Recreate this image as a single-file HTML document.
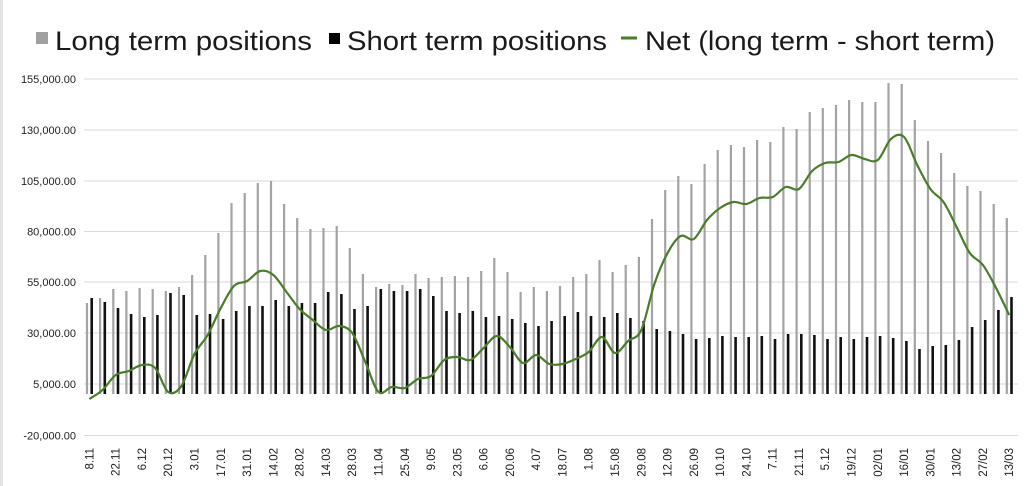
<!DOCTYPE html>
<html><head><meta charset="utf-8"><style>
html,body{margin:0;padding:0;background:#fff;}
svg{display:block;font-family:"Liberation Sans",Arial,sans-serif;}
</style></head><body>
<svg id="c" width="1030" height="486" viewBox="0 0 1030 486" xmlns="http://www.w3.org/2000/svg">
<rect x="0" y="0" width="1030" height="486" fill="#fff"/>
<rect x="0" y="0" width="3" height="486" fill="#e4e4e4"/>
<g stroke="#d9d9d9" stroke-width="1">
<line x1="84" x2="1018" y1="79" y2="79"/>
<line x1="84" x2="1018" y1="130" y2="130"/>
<line x1="84" x2="1018" y1="181" y2="181"/>
<line x1="84" x2="1018" y1="231.5" y2="231.5"/>
<line x1="84" x2="1018" y1="282" y2="282"/>
<line x1="84" x2="1018" y1="333" y2="333"/>
<line x1="84" x2="1018" y1="384" y2="384"/>
<line x1="84" x2="1018" y1="435.5" y2="435.5"/>
</g>
<g font-size="11" fill="#222" text-anchor="end">
<text x="76" y="83">155,000.00</text>
<text x="76" y="134">130,000.00</text>
<text x="76" y="185">105,000.00</text>
<text x="76" y="235.5">80,000.00</text>
<text x="76" y="286">55,000.00</text>
<text x="76" y="337">30,000.00</text>
<text x="76" y="388">5,000.00</text>
<text x="76" y="439.5">-20,000.00</text>
</g>
<g id="bars"></g>
<path id="net" fill="none" stroke="#4a7d2a" stroke-width="2.2"/>
<g font-size="11.5" fill="#222" text-anchor="end">
<text transform="translate(93.4,448) rotate(-90)">8.11</text>
<text transform="translate(119.7,448) rotate(-90)">22.11</text>
<text transform="translate(146,448) rotate(-90)">6.12</text>
<text transform="translate(172.2,448) rotate(-90)">20.12</text>
<text transform="translate(198.5,448) rotate(-90)">3.01</text>
<text transform="translate(224.8,448) rotate(-90)">17.01</text>
<text transform="translate(251.1,448) rotate(-90)">31.01</text>
<text transform="translate(277.4,448) rotate(-90)">14.02</text>
<text transform="translate(303.6,448) rotate(-90)">28.02</text>
<text transform="translate(329.9,448) rotate(-90)">14.03</text>
<text transform="translate(356.2,448) rotate(-90)">28.03</text>
<text transform="translate(382.5,448) rotate(-90)">11.04</text>
<text transform="translate(408.8,448) rotate(-90)">25.04</text>
<text transform="translate(435,448) rotate(-90)">9.05</text>
<text transform="translate(461.3,448) rotate(-90)">23.05</text>
<text transform="translate(487.6,448) rotate(-90)">6.06</text>
<text transform="translate(513.9,448) rotate(-90)">20.06</text>
<text transform="translate(540.2,448) rotate(-90)">4.07</text>
<text transform="translate(566.4,448) rotate(-90)">18.07</text>
<text transform="translate(592.7,448) rotate(-90)">1.08</text>
<text transform="translate(619,448) rotate(-90)">15.08</text>
<text transform="translate(645.3,448) rotate(-90)">29.08</text>
<text transform="translate(671.6,448) rotate(-90)">12.09</text>
<text transform="translate(697.8,448) rotate(-90)">26.09</text>
<text transform="translate(724.1,448) rotate(-90)">10.10</text>
<text transform="translate(750.4,448) rotate(-90)">24.10</text>
<text transform="translate(776.7,448) rotate(-90)">7.11</text>
<text transform="translate(803,448) rotate(-90)">21.11</text>
<text transform="translate(829.2,448) rotate(-90)">5.12</text>
<text transform="translate(855.5,448) rotate(-90)">19/12</text>
<text transform="translate(881.8,448) rotate(-90)">02/01</text>
<text transform="translate(908.1,448) rotate(-90)">16/01</text>
<text transform="translate(934.4,448) rotate(-90)">30/01</text>
<text transform="translate(960.6,448) rotate(-90)">13/02</text>
<text transform="translate(986.9,448) rotate(-90)">27/02</text>
<text transform="translate(1013.2,448) rotate(-90)">13/03</text>
</g>
<g font-size="27" fill="#1a1a1a">
<rect x="36" y="32" width="12" height="12" fill="#a0a0a0"/>
<text x="55" y="50" textLength="257" lengthAdjust="spacingAndGlyphs">Long term positions</text>
<rect x="329" y="33" width="11" height="11" fill="#000"/>
<text x="347" y="50" textLength="260" lengthAdjust="spacingAndGlyphs">Short term positions</text>
<line x1="621" x2="637" y1="38" y2="38" stroke="#4a7d2a" stroke-width="3"/>
<text x="645" y="50" textLength="350" lengthAdjust="spacingAndGlyphs">Net (long term - short term)</text>
</g>
</svg>
<script>
var G=[303,298,289,291,288,289,291,287,275,255,233,203,193,183,181,204,218,229,228,226,248,274,287,284,285,274,278,277,276,277,271,258,272,292,287,291,286,277,274,260,272,265,257,219,190,176,184,164,150,145,147,140,142,127,129,112,108,105,100,102,102,83,84,120,141,153,173,186,191,204,218];
var B=[298,302,308,314,317,315,293,295,315,314,319,311,306,306,300,306,303,303,292,294,309,306,289,291,291,289,296,311,313,311,317,316,319,323,326,321,316,312,316,317,313,318,321,329,331,334,339,338,336,337,337,336,339,334,334,335,339,337,339,337,336,338,341,349,346,345,340,327,320,310,297];
var Z=394,s="",pts=[];
for(var i=0;i<71;i++){var bx=91.7+13.14*i;
s+='<rect x="'+(bx-5.8).toFixed(1)+'" y="'+G[i]+'" width="2.2" height="'+(Z-G[i])+'" fill="#a3a3a3"/>';
s+='<rect x="'+(bx-1.3).toFixed(1)+'" y="'+B[i]+'" width="2.6" height="'+(Z-B[i])+'" fill="#111"/>';
pts.push([bx-2.3,Z-(B[i]-G[i])]);}
document.getElementById('bars').innerHTML=s;
var d="M"+pts[0][0]+","+pts[0][1];
for(var i=0;i<pts.length-1;i++){var p0=pts[Math.max(0,i-1)],p1=pts[i],p2=pts[i+1],p3=pts[Math.min(pts.length-1,i+2)];
var t=0.5/3;d+=" C"+(p1[0]+(p2[0]-p0[0])*t).toFixed(1)+","+(p1[1]+(p2[1]-p0[1])*t).toFixed(1)+" "+(p2[0]-(p3[0]-p1[0])*t).toFixed(1)+","+(p2[1]-(p3[1]-p1[1])*t).toFixed(1)+" "+p2[0].toFixed(1)+","+p2[1].toFixed(1);}
document.getElementById('net').setAttribute('d',d);
</script>
</body></html>
